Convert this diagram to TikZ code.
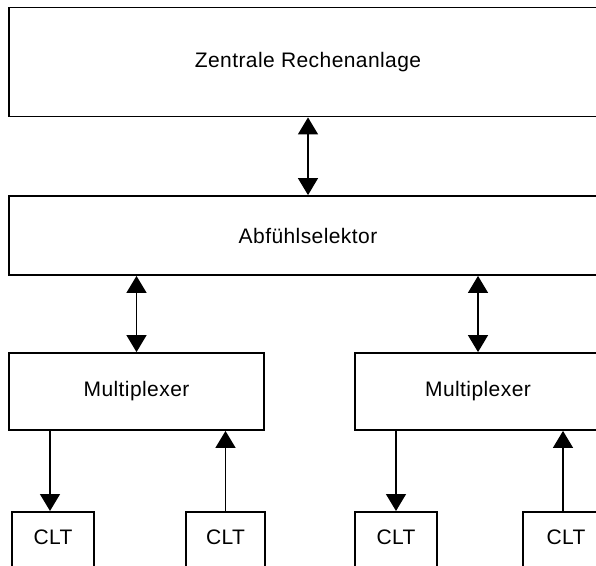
\documentclass[tikz,border=0pt]{standalone}
\usepackage{fontspec}
\setmainfont{Liberation Sans}[LetterSpace=2]
\usetikzlibrary{arrows.meta}
\begin{document}
\begin{tikzpicture}[x=1pt,y=-1pt,
  box/.style={draw, line width=1.8pt, rectangle, inner sep=0pt,
    font=\fontsize{21}{25}\selectfont},
  cltbox/.style={box, anchor=north, inner ysep=0pt,
    text height=33pt, text depth=45pt},
  tip/.tip={Triangle[width=20pt,length=17pt]},
  link/.style={line width=1.4pt, -tip},
  dlink/.style={line width=1.4pt, tip-tip},
]
\useasboundingbox (0,0) rectangle (596,565);
\clip (0,0) rectangle (596,565);

% main units
\node[box, minimum width=598pt, minimum height=109pt] (zra) at (308,62) {Zentrale Rechenanlage};
\node[box, minimum width=598pt, minimum height=79pt] (abf) at (308,235.5) {Abfühlselektor};
\node[box, minimum width=255pt, minimum height=77pt] (mux1) at (136.5,391.5) {Multiplexer};
\node[box, minimum width=246pt, minimum height=77pt] (mux2) at (478,391.5) {Multiplexer};

% terminals
\node[cltbox, minimum width=82pt] (c1) at (53,511) {CLT};
\node[cltbox, minimum width=79pt] (c2) at (225.5,511) {CLT};
\node[cltbox, minimum width=82pt] (c3) at (396,511) {CLT};
\node[cltbox, minimum width=86pt] (c4) at (566,511) {CLT};

% connections
\draw[dlink] (zra.south) -- (abf.north);
\draw[dlink] (abf.south -| mux1.north) -- (mux1.north);
\draw[dlink] (abf.south -| mux2.north) -- (mux2.north);
\draw[link] ([xshift=-3pt]mux1.south -| c1.north) -- ([xshift=-3pt]c1.north);
\draw[link] (c2.north) -- (mux1.south -| c2.north);
\draw[link] (mux2.south -| c3.north) -- (c3.north);
\draw[link] ([xshift=-3pt]c4.north) -- ([xshift=-3pt]mux2.south -| c4.north);
\end{tikzpicture}
\end{document}
